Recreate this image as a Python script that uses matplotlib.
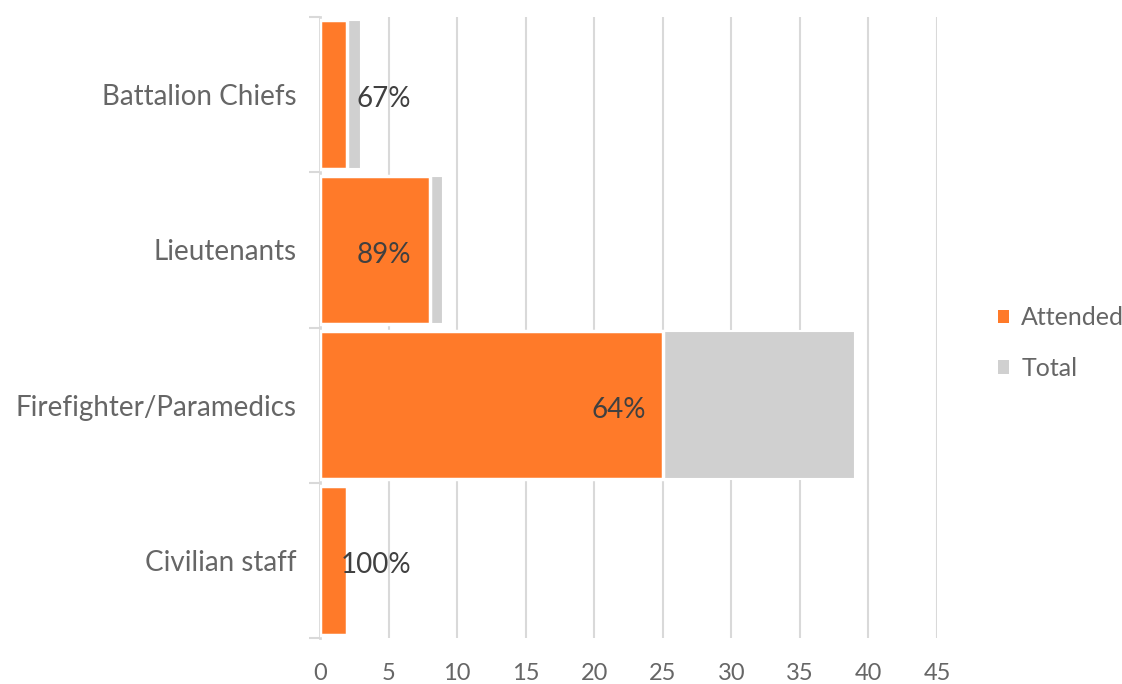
import matplotlib
matplotlib.use("Agg")
import matplotlib.pyplot as plt
from matplotlib.patches import Patch
import numpy as np

categories = ["Battalion Chiefs", "Lieutenants", "Firefighter/Paramedics", "Civilian staff"]
attended = [2, 8, 25, 2]
total = [3, 9, 39, 2]
pct_labels = ["67%", "89%", "64%", "100%"]
label_x = [6.65, 6.65, 23.75, 6.65]  # right edge of label text (data units)
xticks = [0, 5, 10, 15, 20, 25, 30, 35, 40, 45]

ORANGE = "#FF7A29"
GRAY = "#D0D0D0"
TEXT = "#666666"
GRID = "#D9D9D9"

plt.rcParams['font.family'] = ['Lato', 'DejaVu Sans']

fig = plt.figure(figsize=(11.22, 6.84), dpi=100)
ax = fig.add_axes([320/1122, 1-638/684, (937-320)/1122, (638-17)/684])

y = np.arange(len(categories))
h = 0.955
ax.barh(y, total, height=h, color=GRAY, edgecolor="white", linewidth=1.5, zorder=2)
ax.barh(y, attended, height=h, color=ORANGE, edgecolor="white", linewidth=2.5, zorder=3)

for yi, lab, lx in zip(y, pct_labels, label_x):
    ax.text(lx, yi + 0.03, lab, ha="right", va="center", fontsize=20,
            color="#404040", zorder=4)

ax.set_xlim(0, 45)
ax.set_ylim(len(categories) - 0.5, -0.5)
ax.set_xticks(xticks)
ax.set_xticklabels([str(t) for t in xticks], fontsize=17, color=TEXT)
ax.tick_params(axis="x", length=0, pad=18)

ax.set_yticks(y)
ax.set_yticklabels(categories, fontsize=20, color=TEXT)
for lbl in ax.get_yticklabels():
    lbl.set_va("center_baseline")
ax.tick_params(axis="y", which="major", length=0, pad=17)
ax.set_yticks(np.arange(-0.5, len(categories), 1.0), minor=True)
ax.tick_params(axis="y", which="minor", length=8, width=1.5, color=GRID)

ax.grid(axis="x", color=GRID, linewidth=1.5, zorder=0)
ax.set_axisbelow(True)
for s in ["top", "right", "bottom"]:
    ax.spines[s].set_visible(False)
ax.spines["left"].set_color(GRID)
ax.spines["left"].set_linewidth(2)

handles = [Patch(facecolor=ORANGE, edgecolor="none", label="Attended"),
           Patch(facecolor=GRAY, edgecolor="none", label="Total")]
leg = fig.legend(handles=handles, loc="center left", bbox_to_anchor=(980/1122, 1-343/684),
                 frameon=False, fontsize=18, handlelength=0.45, handleheight=0.45,
                 handletextpad=0.5, labelspacing=1.1, borderpad=0.2)
for t in leg.get_texts():
    t.set_color(TEXT)

fig.savefig("out.png", dpi=100)
